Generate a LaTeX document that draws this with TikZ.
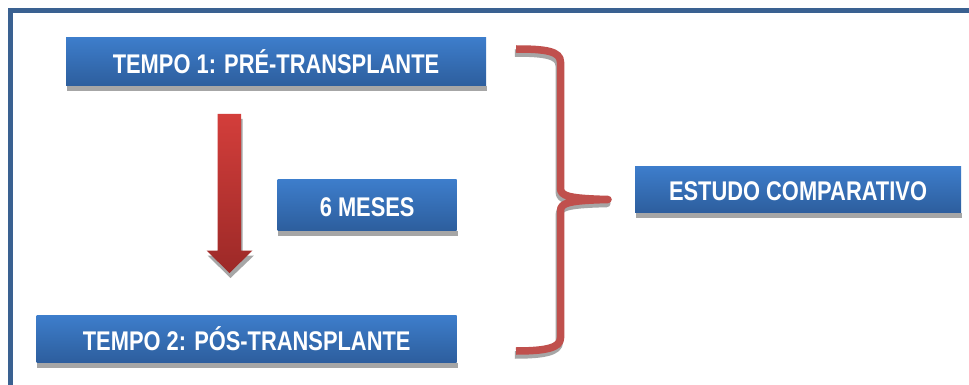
\documentclass[tikz,border=0pt]{standalone}
\usepackage{fontspec}
\newfontfamily\boxfont[FakeStretch=0.81]{Liberation Sans}
\definecolor{framecol}{HTML}{3A6191}
\definecolor{bluetop}{HTML}{3D7DCB}
\definecolor{bluebot}{HTML}{2D5E9D}
\definecolor{shadowgray}{HTML}{A6A6A6}
\definecolor{redtop}{HTML}{D33E3B}
\definecolor{redbot}{HTML}{9C2927}
\definecolor{bracered}{HTML}{C0504D}
\tikzset{
  bluebox/.style={inner sep=0pt, text=white, top color=bluetop, bottom color=bluebot,
    font=\boxfont\bfseries\fontsize{27}{27}\selectfont, text height=22.5pt, text depth=0pt},
  boxshadow/.style={fill=shadowgray},
  bracestroke/.style={line width=7.5pt, line join=round, line cap=butt}
}
\begin{document}
\begin{tikzpicture}[x=1pt,y=-1pt]
\clip (0,0) rectangle (969,385);
\fill[white] (0,0) rectangle (969,385);
% frame
\draw[framecol, line width=5.3pt] (10.6,10.6) rectangle (1010,420);
% boxes
\node[bluebox, minimum width=420pt, minimum height=48pt] (t1) at (276,62) {TEMPO 1: PRÉ-TRANSPLANTE};
\node[bluebox, minimum width=179pt, minimum height=50.7pt] (m6) at (367.2,205.3) {6 MESES};
\node[bluebox, minimum width=420pt, minimum height=46.7pt] (t2) at (246.7,339.3) {TEMPO 2: PÓS-TRANSPLANTE};
\node[bluebox, minimum width=326pt, minimum height=46pt] (ec) at (798,189.7) {ESTUDO COMPARATIVO};
% shadows under boxes
\foreach \n in {t1,m6,t2,ec}{
  \fill[boxshadow] ([xshift=0.8pt]\n.south west) rectangle ([xshift=0.8pt,yshift=-5pt]\n.south east);
}
% arrow shadow and arrow
\fill[shadowgray] (242.5,119) -- (242.5,255.7) -- (253.8,255.7) -- (230.5,278) -- (207.7,255.7) -- (218.7,255.7) -- (218.7,119) -- cycle;
\shade[top color=redtop, bottom color=redbot] (217.7,114) -- (241,114) -- (241,250.7) -- (252.3,250.7) -- (229.5,273) -- (206.7,250.7) -- (217.7,250.7) -- cycle;
% brace shadow and brace
\begin{scope}[shift={(-1.2,4)}]
\draw[shadowgray, bracestroke] (516,49) .. controls (545,49) and (560.5,51) .. (560.5,62) -- (560.5,188)
  .. controls (560.5,196) and (568,198.5) .. (608,199.5)
  .. controls (568,200.5) and (560.5,203) .. (560.5,211) -- (560.5,338)
  .. controls (560.5,348) and (545,351) .. (516,351);
\end{scope}
\draw[bracered, bracestroke] (516,49) .. controls (545,49) and (560.5,51) .. (560.5,62) -- (560.5,188)
  .. controls (560.5,196) and (568,198.5) .. (608,199.5)
  .. controls (568,200.5) and (560.5,203) .. (560.5,211) -- (560.5,338)
  .. controls (560.5,348) and (545,351) .. (516,351);
\end{tikzpicture}
\end{document}
